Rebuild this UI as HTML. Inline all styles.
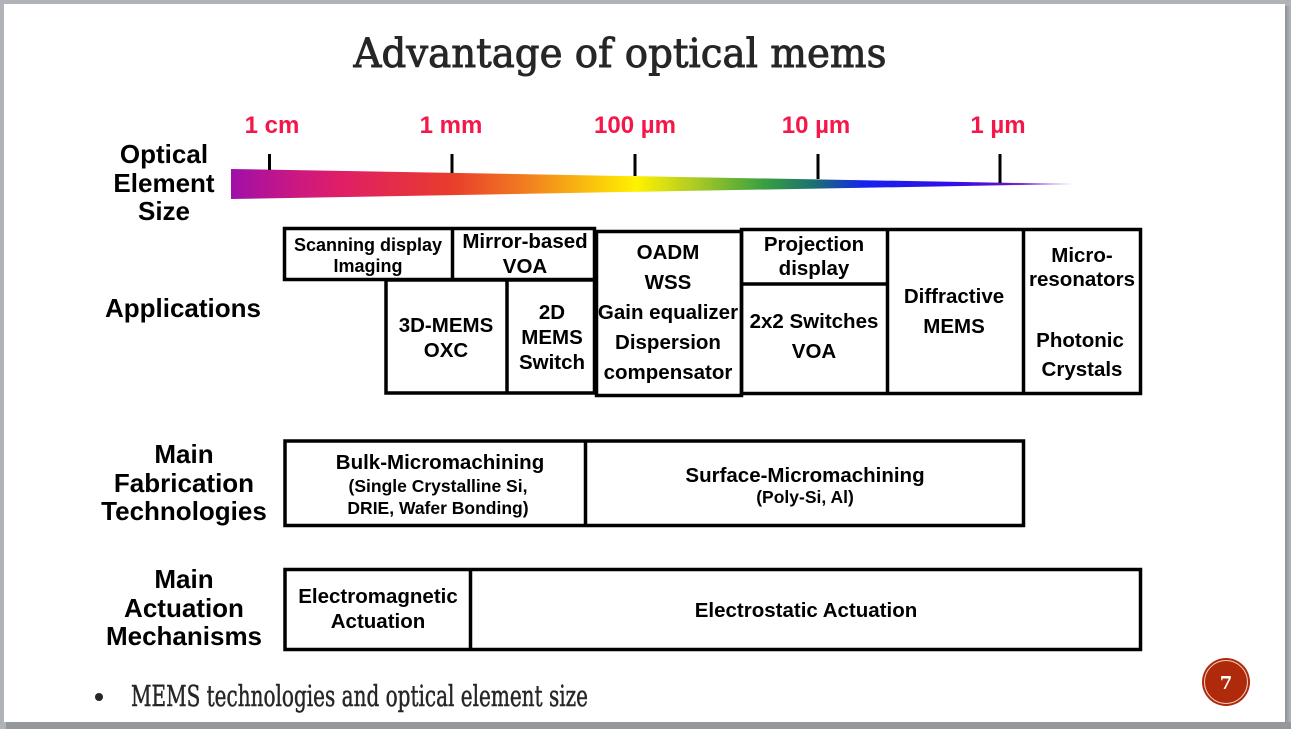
<!DOCTYPE html>
<html>
<head>
<meta charset="utf-8">
<style>
  html,body{margin:0;padding:0;background:#a9acb0;}
  body{width:1291px;height:729px;overflow:hidden;position:relative;}
  svg{position:absolute;left:0;top:0;}
</style>
</head>
<body>
<svg width="1291" height="729" viewBox="0 0 1291 729" xmlns="http://www.w3.org/2000/svg">
  <defs>
    <linearGradient id="spec" x1="231" y1="0" x2="1076" y2="0" gradientUnits="userSpaceOnUse">
      <stop offset="0" stop-color="#a010a8"/>
      <stop offset="0.08" stop-color="#cc1880"/>
      <stop offset="0.13" stop-color="#e01e66"/>
      <stop offset="0.26" stop-color="#e83c2c"/>
      <stop offset="0.35" stop-color="#f27e20"/>
      <stop offset="0.48" stop-color="#fff200"/>
      <stop offset="0.54" stop-color="#b8d020"/>
      <stop offset="0.63" stop-color="#3aa040"/>
      <stop offset="0.69" stop-color="#1a7070"/>
      <stop offset="0.75" stop-color="#1820f0"/>
      <stop offset="0.85" stop-color="#3010e8"/>
      <stop offset="0.915" stop-color="#6010c8"/>
      <stop offset="1" stop-color="#c8a8f0"/>
    </linearGradient>
    <linearGradient id="shadowR" x1="0" y1="0" x2="1" y2="0">
      <stop offset="0" stop-color="#8e9196"/>
      <stop offset="1" stop-color="#b4b7bb"/>
    </linearGradient>
  </defs>

  <!-- frame -->
  <rect x="0" y="0" width="1291" height="729" fill="#b0b3b7"/>
  <rect x="1285" y="6" width="6" height="723" fill="url(#shadowR)"/>
  <rect x="6" y="722" width="1285" height="7" fill="#94979b"/>
  <rect x="4" y="4" width="1281" height="718" fill="#ffffff"/>

  <!-- title -->
  <text x="620" y="67" text-anchor="middle" font-family="'DejaVu Serif','Liberation Serif',serif" font-size="40" fill="#262626" stroke="#262626" stroke-width="0.9" textLength="533" lengthAdjust="spacingAndGlyphs">Advantage of optical mems</text>

  <!-- scale labels -->
  <g font-family="'Liberation Sans',Arial,sans-serif" font-weight="bold" font-size="24" fill="#f5164a" text-anchor="middle">
    <text x="272" y="133">1 cm</text>
    <text x="451" y="133">1 mm</text>
    <text x="635" y="133">100 µm</text>
    <text x="816" y="133">10 µm</text>
    <text x="998" y="133">1 µm</text>
  </g>

  <!-- wedge -->
  <polygon points="231,169 1076,184 231,199" fill="url(#spec)"/>
  <g stroke="#000" stroke-width="3">
    <line x1="269.5" y1="154" x2="269.5" y2="170"/>
    <line x1="452" y1="154" x2="452" y2="173"/>
    <line x1="635" y1="154" x2="635" y2="176"/>
    <line x1="818" y1="154" x2="818" y2="179"/>
    <line x1="1000" y1="154" x2="1000" y2="183"/>
  </g>

  <!-- left labels -->
  <g font-family="'Liberation Sans',Arial,sans-serif" font-weight="bold" font-size="26" fill="#000" text-anchor="middle">
    <text x="164" y="163">Optical</text>
    <text x="164" y="192">Element</text>
    <text x="164" y="220">Size</text>
    <text x="183" y="317">Applications</text>
    <text x="184" y="463">Main</text>
    <text x="184" y="492">Fabrication</text>
    <text x="184" y="520">Technologies</text>
    <text x="184" y="588">Main</text>
    <text x="184" y="617">Actuation</text>
    <text x="184" y="645">Mechanisms</text>
  </g>

  <!-- application boxes -->
  <g fill="none" stroke="#000" stroke-width="3.5">
    <rect x="284.5" y="228.5" width="310" height="51"/>
    <line x1="452.5" y1="228" x2="452.5" y2="280"/>
    <rect x="386" y="280" width="208.5" height="113"/>
    <line x1="507" y1="280" x2="507" y2="393"/>
    <rect x="596.5" y="231.5" width="145" height="164"/>
    <rect x="741.5" y="229.5" width="399" height="164"/>
    <line x1="741.5" y1="284" x2="887.5" y2="284"/>
    <line x1="887.5" y1="229.5" x2="887.5" y2="393.5"/>
    <line x1="1023.5" y1="229.5" x2="1023.5" y2="393.5"/>
    <!-- fabrication -->
    <rect x="285" y="441" width="738.5" height="84.5"/>
    <line x1="585.5" y1="441" x2="585.5" y2="525.5"/>
    <!-- actuation -->
    <rect x="285" y="569.5" width="855.5" height="80"/>
    <line x1="470.5" y1="569.5" x2="470.5" y2="649.5"/>
  </g>

  <g font-family="'Liberation Sans',Arial,sans-serif" font-weight="bold" fill="#000" text-anchor="middle">
    <text x="368" y="251" font-size="18">Scanning display</text>
    <text x="368" y="272" font-size="18">Imaging</text>
    <text x="525" y="248" font-size="20.5">Mirror-based</text>
    <text x="525" y="273" font-size="20.5">VOA</text>
    <text x="446" y="332" font-size="20.5">3D-MEMS</text>
    <text x="446" y="357" font-size="20.5">OXC</text>
    <text x="552" y="319" font-size="20.5">2D</text>
    <text x="552" y="344" font-size="20.5">MEMS</text>
    <text x="552" y="369" font-size="20.5">Switch</text>
    <text x="668" y="259" font-size="20.5">OADM</text>
    <text x="668" y="289" font-size="20.5">WSS</text>
    <text x="668" y="319" font-size="20.5">Gain equalizer</text>
    <text x="668" y="349" font-size="20.5">Dispersion</text>
    <text x="668" y="379" font-size="20.5">compensator</text>
    <text x="814" y="251" font-size="20.5">Projection</text>
    <text x="814" y="275" font-size="20.5">display</text>
    <text x="814" y="328" font-size="20.5">2x2 Switches</text>
    <text x="814" y="358" font-size="20.5">VOA</text>
    <text x="954" y="303" font-size="20.5">Diffractive</text>
    <text x="954" y="333" font-size="20.5">MEMS</text>
    <text x="1082" y="262" font-size="20.5">Micro-</text>
    <text x="1082" y="286" font-size="20.5">resonators</text>
    <text x="1080" y="347" font-size="20.5">Photonic</text>
    <text x="1082" y="376" font-size="20.5">Crystals</text>

    <text x="440" y="469" font-size="20.5">Bulk-Micromachining</text>
    <text x="438" y="492" font-size="17.5">(Single Crystalline Si,</text>
    <text x="438" y="514" font-size="17.5">DRIE, Wafer Bonding)</text>
    <text x="805" y="482" font-size="20.5">Surface-Micromachining</text>
    <text x="805" y="503" font-size="17.5">(Poly-Si, Al)</text>
    <text x="378" y="603" font-size="20.5">Electromagnetic</text>
    <text x="378" y="628" font-size="20.5">Actuation</text>
    <text x="806" y="617" font-size="20.5">Electrostatic Actuation</text>
  </g>

  <!-- bullet -->
  <circle cx="99" cy="697" r="4" fill="#262626"/>
  <text x="131" y="706" font-family="'DejaVu Serif','Liberation Serif',serif" font-size="29" fill="#262626" stroke="#262626" stroke-width="0.5" textLength="457" lengthAdjust="spacingAndGlyphs">MEMS technologies and optical element size</text>

  <!-- page number -->
  <circle cx="1226" cy="682" r="24" fill="#ae2a0a"/>
  <circle cx="1226" cy="682" r="21.5" fill="none" stroke="#f3d6c8" stroke-width="1"/>
  <text x="1226" y="689" text-anchor="middle" font-family="'DejaVu Serif','Liberation Serif',serif" font-weight="bold" font-size="18" fill="#ffffff">7</text>
</svg>
</body>
</html>
